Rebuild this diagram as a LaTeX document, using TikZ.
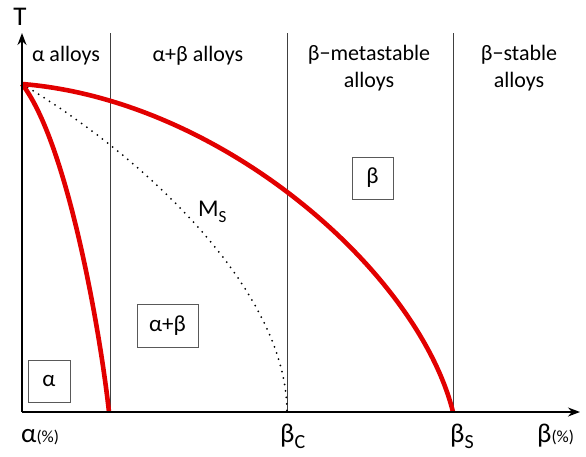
\documentclass[tikz,border=0pt]{standalone}
\usepackage{fontspec}
\setmainfont{Carlito}
\usetikzlibrary{arrows.meta}
\definecolor{transred}{RGB}{226,0,0}
\begin{document}
\begin{tikzpicture}[x=1pt,y=-1pt,
  lbl/.style={font=\fontsize{22}{26}\selectfont, inner sep=0pt},
  axlbl/.style={font=\fontsize{27}{30}\selectfont, inner sep=0pt},
  regionbox/.style={draw=black!65, line width=0.9pt, font=\fontsize{23}{26}\selectfont, inner sep=0pt},
  axisline/.style={line width=1.6pt, -{Stealth[length=12pt,width=9pt]}},
  divider/.style={line width=0.9pt, draw=black!75},
  phase/.style={line width=4.6pt, draw=transred},
  msline/.style={line width=2pt, dash pattern=on 0pt off 6.5pt, line cap=round}
]
\useasboundingbox (0,0) rectangle (586,456);

% key coordinates
\coordinate (O) at (22,412);
\coordinate (Ttop) at (22,33);
\coordinate (Xend) at (580,412);
\coordinate (start) at (22,84);
\coordinate (aend) at (109,412);
\coordinate (bc) at (287,412);
\coordinate (bs) at (453,412);
\coordinate (d1t) at (110,33);
\coordinate (d1b) at (110,412);
\coordinate (d2t) at (287,33);
\coordinate (d2b) at (287,412);
\coordinate (d3t) at (453,33);
\coordinate (d3b) at (453,412);

% dividers
\draw[divider] (d1t) -- (d1b);
\draw[divider] (d2t) -- (d2b);
\draw[divider] (d3t) -- (d3b);

% curves
\draw[msline] (start) .. controls (157,165) and (287,297) .. (bc);
\draw[phase] (start) .. controls (67,142) and (100,330) .. (aend);
\draw[phase] (start) .. controls (222,100) and (418,272) .. (bs);

% axes
\draw[axisline] (O) -- (Ttop);
\draw[axisline] (O) -- (Xend);

% top labels
\node[lbl, anchor=base, font=\fontsize{27}{30}\selectfont] (T) at (20,25) {T};
\node[lbl, anchor=base] (la) at (66,61) {α alloys};
\node[lbl, anchor=base] (lab) at (198,61) {α+β alloys};
\node[lbl, anchor=base] (lbm) at (369,60) {β−metastable};
\node[lbl, anchor=base] (lbm2) at (369,87) {alloys};
\node[lbl, anchor=base] (lbs) at (519,60) {β−stable};
\node[lbl, anchor=base] (lbs2) at (519,87) {alloys};

% region boxes
\node[regionbox, minimum width=41pt, minimum height=42pt] (bbox) at (372.5,178) {β};
\node[regionbox, minimum width=61pt, minimum height=43pt] (abbox) at (167.5,325.5) {α+β};
\node[regionbox, minimum width=42pt, minimum height=42pt] (abox) at (49,381) {α};

% Ms label
\node[lbl, anchor=base west, font=\fontsize{24}{26}\selectfont] (ms) at (198,216) {M\raisebox{-6pt}{\fontsize{17}{18}\selectfont S}};

% axis labels
\node[axlbl, anchor=base west] (xa) at (21,442) {α{\fontsize{17}{18}\selectfont(\%)}};
\node[axlbl, anchor=base west] (xbc) at (280,442) {β\raisebox{-6pt}{\fontsize{20}{22}\selectfont C}};
\node[axlbl, anchor=base west] (xbs) at (450,442) {β\raisebox{-6pt}{\fontsize{20}{22}\selectfont S}};
\node[axlbl, anchor=base west] (xb) at (537,442) {β{\fontsize{17}{18}\selectfont(\%)}};
\end{tikzpicture}
\end{document}
